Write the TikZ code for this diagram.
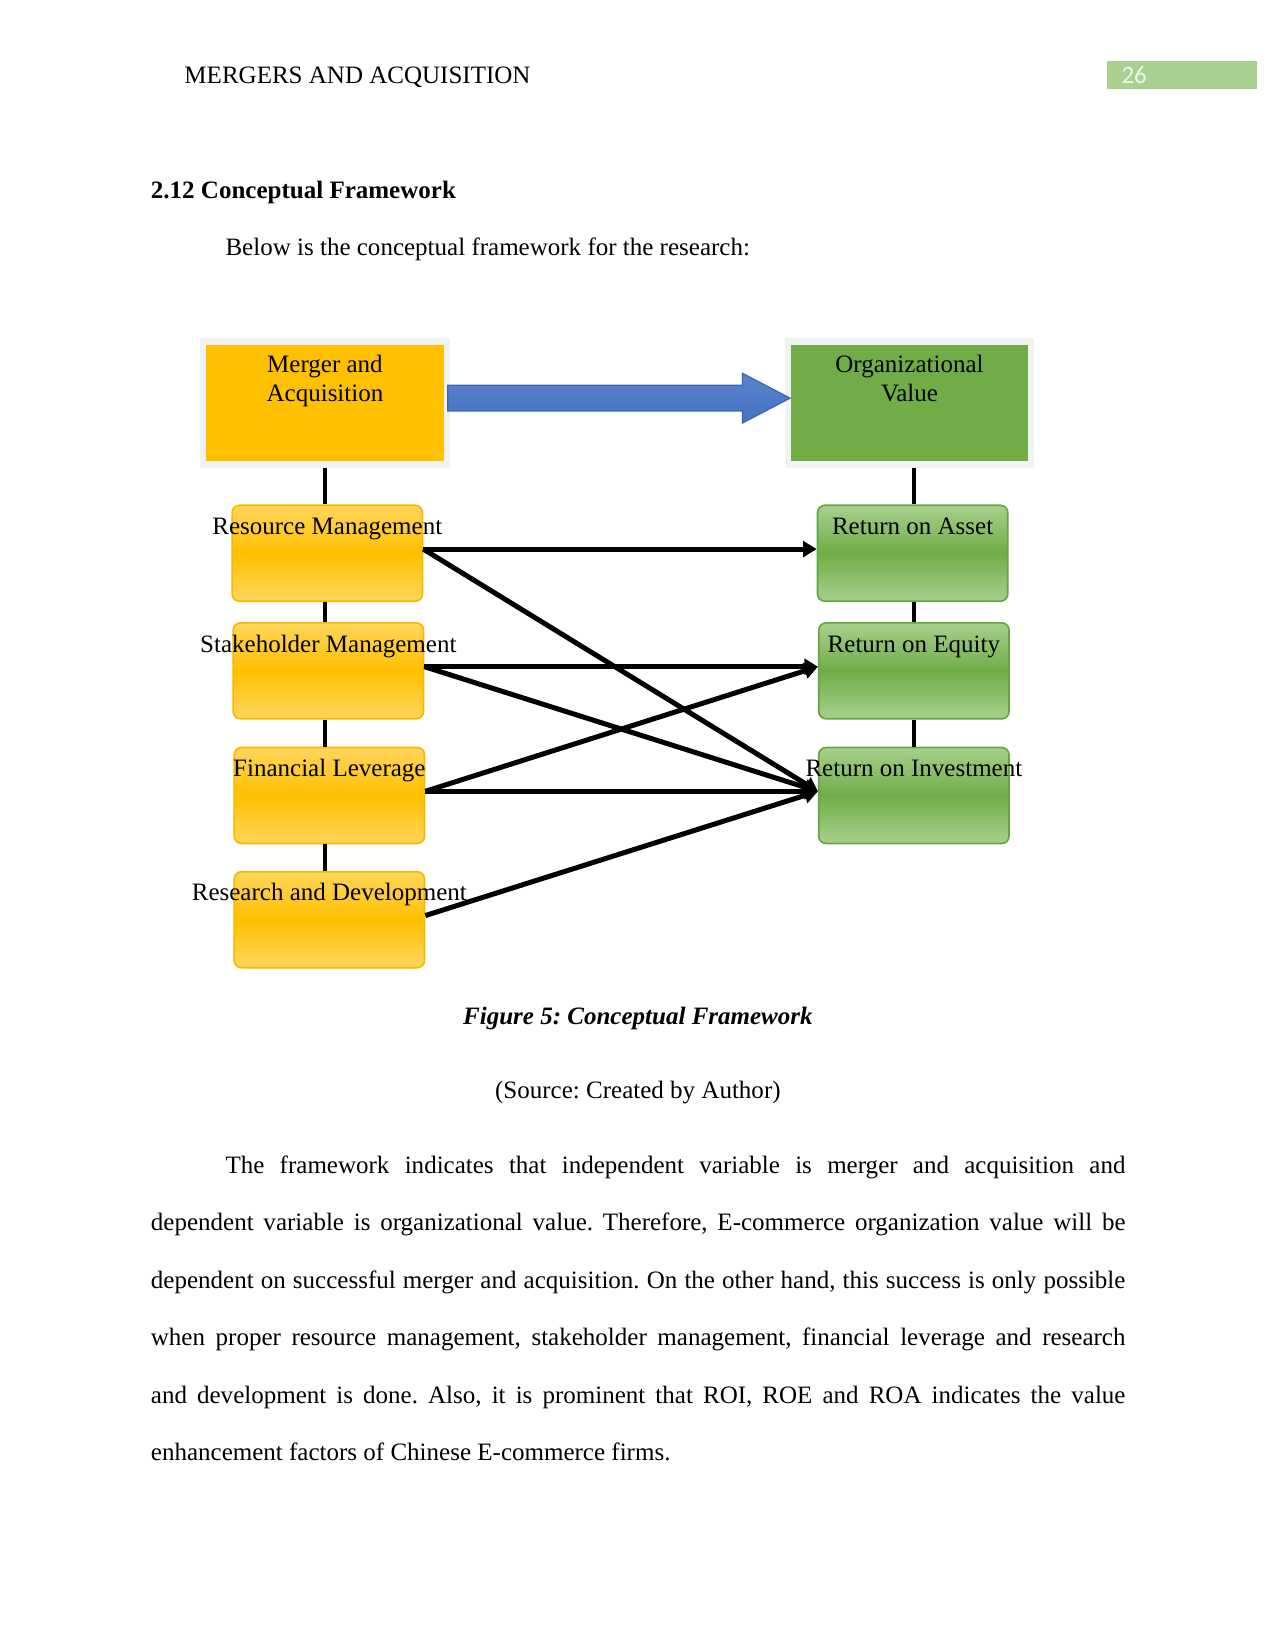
\documentclass[tikz,border=0pt]{standalone}
\usepackage{fontspec}
\setmainfont{Liberation Serif}
\newfontfamily\numfont{Carlito}
\usepackage{tikz}
\usetikzlibrary{arrows.meta,calc}
\frenchspacing
\definecolor{gold}{RGB}{255,192,0}
\definecolor{goldlight}{RGB}{255,214,92}
\definecolor{goldedge}{RGB}{245,185,0}
\definecolor{leaf}{RGB}{112,173,71}
\definecolor{leaflight}{RGB}{168,208,141}
\definecolor{leafedge}{RGB}{104,164,66}
\definecolor{framegray}{RGB}{242,242,242}
\definecolor{arrowblue}{RGB}{68,114,196}
\definecolor{arrowedge}{RGB}{60,102,180}
\definecolor{pagegreen}{RGB}{169,208,142}
\definecolor{pagenum}{RGB}{240,247,235}
\tikzset{
  pagetext/.style={anchor=base west, inner sep=0pt},
  topbox/.style={draw=framegray, line width=3pt, minimum width=116.7pt, minimum height=59pt, inner sep=0pt},
  toplabel/.style={anchor=north, inner sep=0pt, align=center, yshift=-8pt},
  leftbox/.style={draw=goldedge, line width=0.8pt, rounded corners=3.5pt,
    top color=goldlight, bottom color=goldlight, middle color=gold,
    minimum width=91.3pt, minimum height=46pt, inner sep=0pt},
  rightbox/.style={leftbox, draw=leafedge, top color=leaflight, bottom color=leaflight, middle color=leaf},
  sublabel/.style={anchor=north, inner sep=0pt, text height=8pt, text depth=2.6pt, yshift=-6.2pt},
  stem/.style={line width=2.2pt},
  link/.style={line width=2.4pt, -{Triangle[length=6.5pt,width=7.5pt]}},
  bigarrow/.style={draw=arrowedge, line width=0.6pt, top color=arrowblue!88!white, bottom color=arrowblue}
}

\begin{document}
\begin{tikzpicture}[x=1pt, y=-1pt, font=\fontsize{12}{13.8}\selectfont]
  \fill[white] (0,0) rectangle (612,792);
  \useasboundingbox (0,0) rectangle (612,792);

  \node (header) [pagetext] at (88.3,40) {MERGERS AND ACQUISITION};
  \node (pgbox) [fill=pagegreen, minimum width=72pt, minimum height=13.1pt, inner sep=0pt, anchor=north west] at (531,29.3) {};
  \node (pgnum) [pagetext, font=\numfont\fontsize{12}{14}\selectfont, text=pagenum] at (537.8,40) {26};
  \node (heading) [pagetext, font=\fontsize{12}{13.8}\selectfont\bfseries] at (72.2,95) {2.12 Conceptual Framework};
  \node (intro) [pagetext] at (108,122.7) {Below is the conceptual framework for the research:};

  \node (ma) [topbox, fill=gold, label={[toplabel]north:Merger and\\Acquisition}] at (155.9,193.3) {};
  \node (ov) [topbox, fill=leaf, label={[toplabel]north:Organizational\\Value}] at (436.3,193.3) {};

  \node (rm) [leftbox, label={[sublabel]north:Resource Management}] at (157,265.4) {};
  \node (sm) [leftbox, label={[sublabel]north:Stakeholder Management}] at (157.5,321.8) {};
  \node (fl) [leftbox, label={[sublabel]north:Financial Leverage}] at (158,381.6) {};
  \node (rd) [leftbox, label={[sublabel]north:Research and Development}] at (158,441.2) {};

  \node (roa) [rightbox, label={[sublabel]north:Return on Asset}] at (437.8,265.4) {};
  \node (roe) [rightbox, label={[sublabel]north:Return on Equity}] at (438.4,321.8) {};
  \node (roi) [rightbox, label={[sublabel]north:Return on Investment}] at (438.4,381.6) {};

  \draw[bigarrow] ($(ma.east)+(-1,-8.45)$) -- ($(ov.west)+(-20.25,-8.45)$) -- ($(ov.west)+(-20.25,-14.2)$)
    -- ($(ov.west)+(2.55,-2.3)$) -- ($(ov.west)+(-20.25,9.6)$) -- ($(ov.west)+(-20.25,3.85)$)
    -- ($(ma.east)+(-1,3.85)$) -- cycle;

  \foreach \a/\b in {ma/rm, rm/sm, sm/fl, fl/rd}
    \draw[stem] (ma.center |- \a.south) -- (ma.center |- \b.north);
  \foreach \a/\b in {ov/roa, roa/roe, roe/roi}
    \draw[stem] (roe.center |- \a.south) -- (roe.center |- \b.north);

  \foreach \a/\b in {rm/roa, rm/roi, sm/roe, sm/roi, fl/roe, fl/roi, rd/roi}
    \draw[link] ($(\a.east)+(0,-2)$) -- ($(\b.west)+(0,-2)$);

  \node (caption) [anchor=base, inner sep=0pt, font=\fontsize{12}{13.8}\selectfont\bfseries\itshape] at (306,491.6) {Figure 5: Conceptual Framework};
  \node (source) [anchor=base, inner sep=0pt] at (306,527) {(Source: Created by Author)};

  \node (body) [pagetext, text width=467.5pt, align=justify, font=\fontsize{12}{27.6}\selectfont] at (72.2,562.8)
    {\tolerance=10000 \hyphenpenalty=10000 \hspace*{35.8pt}The framework indicates that independent variable is merger and acquisition and\linebreak
     dependent variable is organizational value. Therefore, E-commerce organization value will be\linebreak
     dependent on successful merger and acquisition. On the other hand, this success is only possible\linebreak
     when proper resource management, stakeholder management, financial leverage and research\linebreak
     and development is done. Also, it is prominent that ROI, ROE and ROA indicates the value\linebreak
     enhancement factors of Chinese E-commerce firms.};
\end{tikzpicture}
\end{document}
